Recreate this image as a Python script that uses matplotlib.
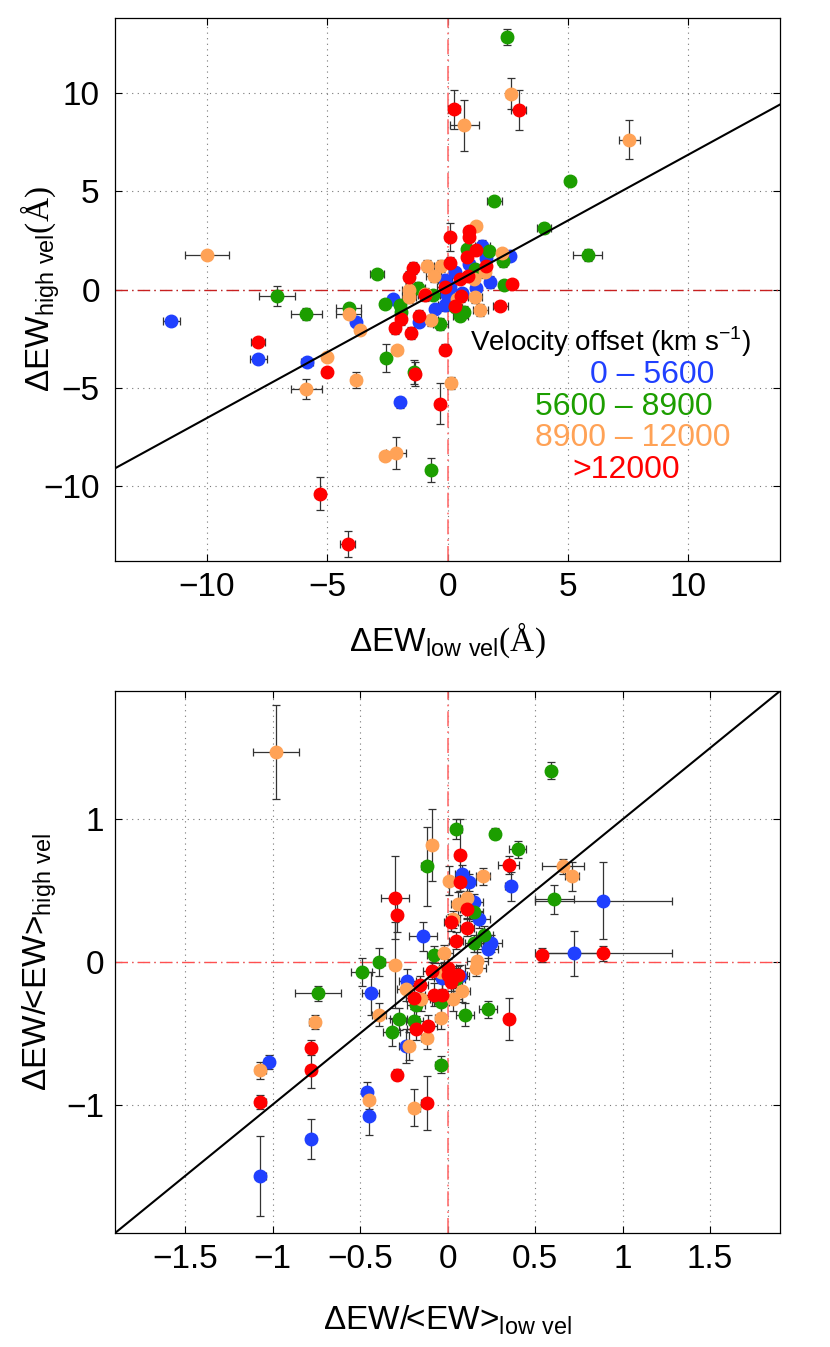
import numpy as np
import matplotlib
matplotlib.use('Agg')
import matplotlib.pyplot as plt
from matplotlib.ticker import FixedLocator, FuncFormatter

plt.rcParams['font.family'] = ['Liberation Sans', 'DejaVu Sans']
plt.rcParams['mathtext.fontset'] = 'custom'
plt.rcParams['mathtext.rm'] = 'Liberation Sans'
plt.rcParams['mathtext.tt'] = 'Liberation Serif'
plt.rcParams['axes.unicode_minus'] = True

# velocity offset bins (km/s)
bin_labels = ['0 \u2013 5600', '5600 \u2013 8900', '8900 \u2013 12000', '>12000']
bin_colors = ['#2040ff', '#1c9e00', '#ffa256', '#ff0000']

# top panel: columns = dEW low vel, dEW high vel, xerr, yerr  (Angstrom)
top_blue = np.array([
    [-11.47, -1.62, 0.35, 0.15], [-7.86, -3.55, 0.35, 0.15], [-5.84, -3.69, 0.25, 0.15],
    [-3.80, -1.66, 0.20, 0.15], [-2.28, -0.50, 0.20, 0.20], [-1.20, -1.66, 0.20, 0.20],
    [-1.96, -5.74, 0.20, 0.30], [-0.10, 0.46, 0.30, 0.30], [-0.03, -0.30, 0.30, 0.30],
    [-0.10, -0.81, 0.30, 0.30], [1.45, 2.20, 0.30, 0.30], [2.60, 1.68, 0.20, 0.20],
    [1.77, 0.37, 0.20, 0.30], [0.11, 0.12, 0.20, 0.20], [0.90, 1.30, 0.20, 0.20],
    [0.30, 0.90, 0.20, 0.20], [-0.50, -1.00, 0.20, 0.20], [1.20, 0.10, 0.20, 0.20],
    [0.60, -0.20, 0.20, 0.20], [1.60, 1.60, 0.20, 0.20],
])
top_green = np.array([
    [2.46, 12.84, 0.20, 0.40], [5.07, 5.54, 0.20, 0.15], [1.94, 4.48, 0.30, 0.15],
    [4.01, 3.12, 0.30, 0.25], [5.81, 1.75, 0.60, 0.30], [-2.93, 0.80, 0.30, 0.15],
    [-7.07, -0.32, 0.75, 0.50], [-5.86, -1.25, 0.65, 0.30], [-4.11, -0.95, 0.50, 0.20],
    [-2.60, -0.71, 0.20, 0.20], [-2.57, -3.47, 0.20, 0.70], [-1.38, -4.18, 0.20, 0.60],
    [-0.68, -9.18, 0.20, 0.60], [0.80, 2.08, 0.20, 0.20], [1.73, 1.95, 0.20, 0.20],
    [2.32, 1.47, 0.20, 0.30], [2.35, 0.25, 0.20, 0.20], [-1.24, 0.10, 0.30, 0.30],
    [0.53, -1.32, 0.30, 0.30], [0.70, -1.15, 0.20, 0.30], [-0.30, -1.74, 0.30, 0.30],
    [-1.93, -1.15, 0.20, 0.20], [-1.96, -0.78, 0.20, 0.20], [1.15, 1.05, 0.20, 0.20],
    [-0.60, -0.30, 0.20, 0.20], [0.30, -0.90, 0.20, 0.20],
])
top_orange = np.array([
    [2.64, 9.96, 0.20, 0.80], [0.70, 8.35, 0.60, 1.30], [7.55, 7.62, 0.45, 1.00],
    [1.20, 3.22, 0.20, 0.20], [-9.98, 1.78, 0.90, 0.15], [-4.11, -1.24, 0.50, 0.20],
    [-3.65, -2.08, 0.20, 0.20], [-5.02, -3.42, 0.20, 0.20], [-2.09, -3.08, 0.20, 0.20],
    [-3.80, -4.59, 0.20, 0.40], [-5.86, -5.06, 0.65, 0.50], [0.14, -4.76, 0.20, 0.30],
    [-2.61, -8.46, 0.20, 0.20], [-2.14, -8.31, 0.40, 0.80], [-0.85, 1.18, 0.20, 0.30],
    [-0.27, 1.18, 0.30, 0.30], [-0.58, 0.68, 0.30, 0.30], [-1.60, -0.02, 0.30, 0.30],
    [-1.60, -0.39, 0.30, 0.30], [-0.93, -0.22, 0.30, 0.30], [-0.69, -1.57, 0.30, 0.30],
    [1.15, -0.39, 0.30, 0.30], [1.36, -1.03, 0.30, 0.30], [2.28, 1.85, 0.20, 0.20],
    [1.57, 0.87, 0.20, 0.30], [1.08, 0.54, 0.20, 0.20], [0.40, -0.50, 0.20, 0.20],
])
top_red = np.array([
    [0.25, 9.16, 0.25, 1.00], [2.95, 9.13, 0.30, 1.00], [0.10, 2.66, 0.20, 0.70],
    [0.90, 2.98, 0.20, 0.20], [0.90, 2.68, 0.20, 0.20], [1.18, 2.02, 0.20, 0.20],
    [0.82, 1.64, 0.20, 0.20], [1.59, 1.22, 0.20, 0.20], [-1.42, 1.10, 0.20, 0.30],
    [-1.59, 0.64, 0.20, 0.30], [0.11, 1.37, 0.20, 0.30], [0.87, 0.71, 0.20, 0.20],
    [0.50, 0.52, 0.20, 0.20], [2.67, 0.29, 0.20, 0.20], [-0.93, -0.27, 0.30, 0.30],
    [-0.12, 0.15, 0.30, 0.30], [0.57, -0.32, 0.30, 0.30], [0.32, -0.84, 0.30, 0.30],
    [2.19, -0.84, 0.30, 0.20], [-1.19, -1.32, 0.20, 0.30], [-1.92, -1.49, 0.20, 0.30],
    [-2.17, -1.98, 0.20, 0.30], [-1.53, -2.21, 0.20, 0.30], [-0.12, -3.05, 0.20, 0.30],
    [-7.86, -2.68, 0.30, 0.20], [-5.02, -4.20, 0.20, 0.20], [-1.35, -4.29, 0.20, 0.60],
    [-0.32, -5.80, 0.20, 1.05], [-5.29, -10.37, 0.20, 0.85], [-4.15, -12.94, 0.30, 0.65],
])

# linear fit in top panel
fit_slope = 0.67
fit_intercept = 0.16

# bottom panel: columns = dEW/<EW> low vel, dEW/<EW> high vel, xerr, yerr
bot_blue = np.array([
    [0.08, 0.62, 0.04, 0.06], [0.12, 0.56, 0.04, 0.06], [0.36, 0.53, 0.03, 0.10],
    [0.89, 0.43, 0.39, 0.27], [0.15, 0.42, 0.05, 0.06], [0.18, 0.30, 0.06, 0.06],
    [-0.14, 0.18, 0.08, 0.10], [0.25, 0.13, 0.06, 0.06], [0.23, 0.09, 0.06, 0.06],
    [0.72, 0.06, 0.18, 0.16], [0.07, -0.10, 0.05, 0.08], [-0.03, -0.11, 0.05, 0.08],
    [-0.23, -0.13, 0.05, 0.08], [-0.44, -0.22, 0.05, 0.15], [-0.24, -0.59, 0.04, 0.12],
    [-1.02, -0.70, 0.03, 0.05], [-0.46, -0.91, 0.03, 0.07], [-0.45, -1.08, 0.03, 0.13],
    [-0.78, -1.24, 0.03, 0.14], [-1.07, -1.50, 0.03, 0.28],
])
bot_green = np.array([
    [0.59, 1.34, 0.03, 0.06], [0.05, 0.93, 0.03, 0.07], [0.27, 0.90, 0.03, 0.04],
    [0.40, 0.79, 0.05, 0.06], [-0.12, 0.67, 0.03, 0.28], [0.61, 0.44, 0.11, 0.10],
    [0.15, 0.35, 0.05, 0.06], [0.21, 0.19, 0.05, 0.06], [0.15, 0.13, 0.05, 0.06],
    [-0.39, 0.00, 0.03, 0.10], [-0.49, -0.07, 0.06, 0.10], [0.05, -0.12, 0.05, 0.08],
    [-0.74, -0.22, 0.13, 0.05], [-0.18, -0.30, 0.05, 0.08], [-0.04, -0.28, 0.05, 0.08],
    [0.23, -0.33, 0.05, 0.06], [0.10, -0.37, 0.05, 0.08], [-0.28, -0.40, 0.05, 0.08],
    [-0.19, -0.41, 0.05, 0.08], [-0.32, -0.49, 0.05, 0.10], [-0.04, -0.72, 0.03, 0.06],
    [-0.08, 0.05, 0.04, 0.06],
])
bot_orange = np.array([
    [-0.98, 1.47, 0.13, 0.33], [-0.09, 0.82, 0.03, 0.25], [0.66, 0.67, 0.12, 0.05],
    [0.71, 0.60, 0.04, 0.10], [0.01, 0.57, 0.03, 0.10], [0.20, 0.60, 0.04, 0.06],
    [0.11, 0.45, 0.04, 0.08], [0.06, 0.41, 0.04, 0.08], [0.03, 0.30, 0.04, 0.06],
    [-0.30, -0.02, 0.03, 0.30], [0.17, 0.01, 0.06, 0.06], [0.16, -0.04, 0.06, 0.06],
    [-0.02, 0.06, 0.05, 0.06], [-0.04, -0.07, 0.05, 0.06], [-0.24, -0.19, 0.05, 0.08],
    [-0.15, -0.26, 0.05, 0.08], [0.03, -0.26, 0.05, 0.08], [0.08, -0.20, 0.05, 0.08],
    [-0.04, -0.39, 0.03, 0.08], [-0.39, -0.37, 0.04, 0.08], [-0.12, -0.53, 0.03, 0.08],
    [-0.22, -0.59, 0.03, 0.10], [-0.76, -0.42, 0.03, 0.05], [-1.07, -0.76, 0.03, 0.06],
    [-0.45, -0.97, 0.03, 0.06], [-0.19, -1.02, 0.03, 0.13],
])
bot_red = np.array([
    [0.07, 0.75, 0.03, 0.25], [0.35, 0.68, 0.06, 0.06], [0.07, 0.56, 0.04, 0.06],
    [-0.30, 0.45, 0.08, 0.29], [-0.29, 0.33, 0.03, 0.12], [0.11, 0.37, 0.04, 0.06],
    [0.02, 0.28, 0.04, 0.06], [0.11, 0.24, 0.04, 0.06], [0.05, 0.15, 0.04, 0.06],
    [0.54, 0.05, 0.03, 0.05], [0.89, 0.06, 0.39, 0.05], [0.00, -0.04, 0.05, 0.06],
    [-0.09, -0.06, 0.05, 0.06], [0.00, -0.09, 0.05, 0.06], [0.06, -0.09, 0.05, 0.06],
    [0.02, -0.14, 0.05, 0.06], [-0.16, -0.16, 0.05, 0.06], [-0.19, -0.25, 0.05, 0.08],
    [-0.08, -0.23, 0.05, 0.08], [-0.03, -0.23, 0.05, 0.08], [0.35, -0.40, 0.03, 0.15],
    [-0.18, -0.47, 0.05, 0.08], [-0.11, -0.45, 0.05, 0.08], [-0.78, -0.60, 0.03, 0.05],
    [-0.78, -0.76, 0.03, 0.12], [-0.29, -0.79, 0.03, 0.04], [-1.07, -0.98, 0.03, 0.05],
    [-0.12, -0.99, 0.03, 0.19],
])

top_ticks = [-10, -5, 0, 5, 10]
bot_xticks = [-1.5, -1, -0.5, 0, 0.5, 1, 1.5]
bot_yticks = [-1, 0, 1]


def fmt(v, _):
    return ('%g' % v).replace('-', '\u2212')


def style_axis(ax, xticks, yticks, ypad):
    ax.xaxis.set_major_locator(FixedLocator(xticks))
    ax.yaxis.set_major_locator(FixedLocator(yticks))
    ax.xaxis.set_major_formatter(FuncFormatter(fmt))
    ax.yaxis.set_major_formatter(FuncFormatter(fmt))
    ax.tick_params(direction='in', top=True, right=True, length=5, width=0.8,
                   labelsize=24)
    ax.tick_params(axis='x', pad=8)
    ax.tick_params(axis='y', pad=ypad)
    ax.grid(True, linestyle=(0, (1, 4)), color='#777777', linewidth=0.8)
    for s in ax.spines.values():
        s.set_linewidth(0.9)


def draw_points(ax, groups):
    for data, c in zip(groups, bin_colors):
        ax.errorbar(data[:, 0], data[:, 1], xerr=data[:, 2], yerr=data[:, 3],
                    fmt='none', ecolor='#333333', elinewidth=0.9, capsize=3,
                    capthick=0.9, zorder=3)
        ax.plot(data[:, 0], data[:, 1], 'o', color=c, mec=c, ms=9, zorder=4)


fig = plt.figure(figsize=(8.3, 13.47), dpi=100)

# ---- top panel
ax1 = fig.add_axes([0.1386, 0.5835, 0.8012, 0.4031])
lim1 = 13.8
ax1.set_xlim(-lim1, lim1)
ax1.set_ylim(-lim1, lim1)
style_axis(ax1, top_ticks, top_ticks, 11)
ax1.axvline(0, color='#ff7070', linestyle=(0, (9, 3, 1, 3)), lw=1.2, zorder=2)
ax1.axhline(0, color='#c82020', linestyle=(0, (9, 3, 1, 3)), lw=1.0, zorder=2)
xx = np.array([-lim1, lim1])
ax1.plot(xx, fit_slope * xx + fit_intercept, color='black', lw=1.5, zorder=5)
draw_points(ax1, [top_blue, top_green, top_orange, top_red])

ax1.set_xlabel('\u0394EW$_{\\rm low\\ vel}$$\\mathtt{(\u00c5)}$', fontsize=24)
ax1.set_ylabel('\u0394EW$_{\\rm high\\ vel}$$\\mathtt{(\u00c5)}$', fontsize=24)
ax1.xaxis.set_label_coords(0.5, -0.11)
ax1.yaxis.set_label_coords(-0.08, 0.5)

ax1.text(0.534, 0.403, 'Velocity offset (km s$^{-1}$)', transform=ax1.transAxes,
         fontsize=20, va='center', ha='left')
legend_pos = [(0.714, 0.343), (0.632, 0.284), (0.632, 0.227), (0.687, 0.168)]
for lab, c, (tx, ty) in zip(bin_labels, bin_colors, legend_pos):
    ax1.text(tx, ty, lab, color=c, transform=ax1.transAxes, fontsize=23,
             va='center', ha='left')

# ---- bottom panel
ax2 = fig.add_axes([0.1386, 0.0846, 0.8012, 0.4024])
lim2 = 1.9
ax2.set_xlim(-lim2, lim2)
ax2.set_ylim(-lim2, lim2)
style_axis(ax2, bot_xticks, bot_yticks, 8)
ax2.axvline(0, color='#ff7070', linestyle=(0, (9, 3, 1, 3)), lw=1.2, zorder=2)
ax2.axhline(0, color='#ff5050', linestyle=(0, (9, 3, 1, 3)), lw=1.0, zorder=2)
xx2 = np.array([-lim2, lim2])
ax2.plot(xx2, xx2, color='black', lw=1.5, zorder=5)
draw_points(ax2, [bot_blue, bot_green, bot_orange, bot_red])

ax2.set_xlabel('\u0394EW/<EW>$_{\\rm low\\ vel}$', fontsize=24)
ax2.set_ylabel('\u0394EW/<EW>$_{\\rm high\\ vel}$', fontsize=24)
ax2.xaxis.set_label_coords(0.5, -0.13)
ax2.yaxis.set_label_coords(-0.085, 0.5)

fig.savefig('out.png', dpi=100)
